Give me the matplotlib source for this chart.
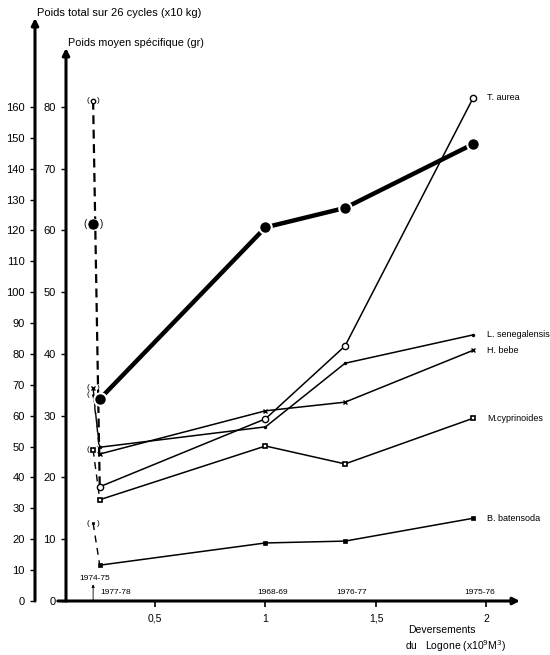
import matplotlib
import matplotlib.pyplot as plt

matplotlib.use("Agg")

plt.rcParams["font.family"] = ["Liberation Sans", "DejaVu Sans"]

# Saisons (campagnes) and river discharge (x10^9 m3)
years = ["1974-75", "1977-78", "1968-69", "1976-77", "1975-76"]
deversements = [0.22, 0.25, 1.0, 1.36, 1.94]

# Poids total sur 26 cycles (x10 kg)
poids_total = [122, 65.4, 121, 127.3, 148]

# Poids moyen specifique (gr) per species
t_aurea = [81, 18.5, 29.5, 41.3, 81.5]
l_senegalensis = [33.4, 24.9, 28.2, 38.5, 43.1]
h_bebe = [34.5, 23.8, 30.8, 32.2, 40.6]
m_cyprinoides = [24.5, 16.4, 25.1, 22.2, 29.6]
b_batensoda = [12.6, 5.8, 9.4, 9.7, 13.4]

species_names = ["T. aurea", "L. senegalensis", "H. bebe", "M.cyprinoides", "B. batensoda"]

x_ticks = [0.5, 1, 1.5, 2]
x_ticklabels = ["0,5", "1", "1,5", "2"]
total_ticks = list(range(0, 161, 10))
moyen_ticks = list(range(0, 81, 10))

fig = plt.figure(figsize=(5.5, 6.55), dpi=100)
ax = fig.add_axes([66 / 550, 54 / 655, 454 / 550, 583 / 655])
ax.set_xlim(0.0973, 2.1516)
ax.set_ylim(0, 94.41)
ax_tot = ax.twinx()
ax_tot.set_ylim(0, 188.8)

for a in (ax, ax_tot):
    for s in a.spines.values():
        s.set_visible(False)

# outer axis (total) on the left, shifted outward
ax_tot.yaxis.set_ticks_position("left")
ax_tot.spines["left"].set_position(("outward", 31 * 0.72))
ax_tot.set_yticks(total_ticks)
ax_tot.tick_params(axis="y", direction="out", length=3.5, width=1.0, labelsize=8, pad=4)

ax.set_yticks(moyen_ticks)
ax.tick_params(axis="y", direction="out", length=3.5, width=1.0, labelsize=8, pad=4)
ax.set_xticks(x_ticks)
ax.set_xticklabels(x_ticklabels)
ax.tick_params(axis="x", direction="out", length=4, width=1.2, labelsize=7.5, pad=5)

# axis lines with arrows
arrow = dict(arrowstyle="-|>", lw=2.2, color="black", shrinkA=0, shrinkB=0,
             mutation_scale=10)
ax.annotate("", xy=(1.0, 0), xytext=(-0.018, 0), xycoords="axes fraction",
            arrowprops=arrow, annotation_clip=False)
ax.annotate("", xy=(0, 0.9485), xytext=(0, 0), xycoords="axes fraction",
            arrowprops=arrow, annotation_clip=False)
ax.annotate("", xy=(-0.0683, 1.0), xytext=(-0.0683, 0), xycoords="axes fraction",
            arrowprops=arrow, annotation_clip=False)

# species (poids moyen)
styles = [
    dict(marker="o", ms=4.5, mfc="white", mew=1.0),
    dict(marker=".", ms=4, mfc="black", mew=0.5),
    dict(marker="x", ms=3.5, mew=1.0),
    dict(marker="s", ms=3.5, mfc="white", mew=1.2),
    dict(marker="s", ms=3, mfc="black", mew=0.5),
]
series = [t_aurea, l_senegalensis, h_bebe, m_cyprinoides, b_batensoda]
for vals, st, name in zip(series, styles, species_names):
    ax.plot(deversements[1:], vals[1:], color="black", lw=1.1, zorder=3, **st)
    if name == "T. aurea":
        ax.plot(deversements[:2], vals[:2], color="black", lw=1.6,
                dashes=(4, 2.5), zorder=2)
    else:
        ax.plot(deversements[:2], vals[:2], color="black", lw=1.0,
                dashes=(5, 4), zorder=2)
    ax.plot(deversements[0], vals[0], color="black", zorder=3,
            **{k: (v * 0.7 if k == "ms" else v) for k, v in st.items()})
    ax.annotate("(", (deversements[0], vals[0]), xytext=(-4, 0),
                textcoords="offset points", ha="center", va="center", fontsize=6)
    ax.annotate(")", (deversements[0], vals[0]), xytext=(4, 0),
                textcoords="offset points", ha="center", va="center", fontsize=6)
    ax.annotate(name, (deversements[-1], vals[-1]), xytext=(10, 0),
                textcoords="offset points", ha="left", va="center", fontsize=6.5)

# poids total (thick line, big dots)
ax_tot.plot(deversements[1:], poids_total[1:], color="black", lw=3.2,
            marker="o", ms=9, mfc="black", mec="white", mew=1.5, zorder=5)
ax_tot.plot(deversements[0], poids_total[0], color="black", marker="o", ms=8,
            mec="white", mew=0.5, zorder=5)
ax_tot.annotate("(", (deversements[0], poids_total[0]), xytext=(-6, 0),
                textcoords="offset points", ha="center", va="center", fontsize=7)
ax_tot.annotate(")", (deversements[0], poids_total[0]), xytext=(6, 0),
                textcoords="offset points", ha="center", va="center", fontsize=7)

# season labels along the x axis
ax.annotate(years[0], (deversements[0], 0), xytext=(1, 16), textcoords="offset points",
            ha="center", va="center", fontsize=6)
ax.annotate("", (deversements[0], 0), xytext=(0, 12), textcoords="offset points",
            arrowprops=dict(arrowstyle="<|-", lw=0.6, color="black", shrinkA=0,
                            shrinkB=0, mutation_scale=4))
ax.annotate(years[1], (deversements[1], 0), xytext=(0.5, 6), textcoords="offset points",
            ha="left", va="center", fontsize=6)
for xv, yr in zip(deversements[2:], years[2:]):
    ax.annotate(yr, (xv, 0), xytext=(5, 6), textcoords="offset points",
                ha="center", va="center", fontsize=6)

# axis titles
fig.text(37 / 550, 1 - 13 / 655, "Poids total sur 26 cycles (x10 kg)",
         fontsize=8, va="center", ha="left")
fig.text(68 / 550, 1 - 43 / 655, "Poids moyen spécifique (gr)",
         fontsize=7.8, va="center", ha="left")
fig.text(408 / 550, 1 - 630 / 655, "Deversements", fontsize=7.5, va="center", ha="left")
fig.text(405 / 550, 1 - 646 / 655, "du   Logone (x10$^9$M$^3$)", fontsize=7.5,
         va="center", ha="left")

fig.savefig("out.png", dpi=100, facecolor="white")
